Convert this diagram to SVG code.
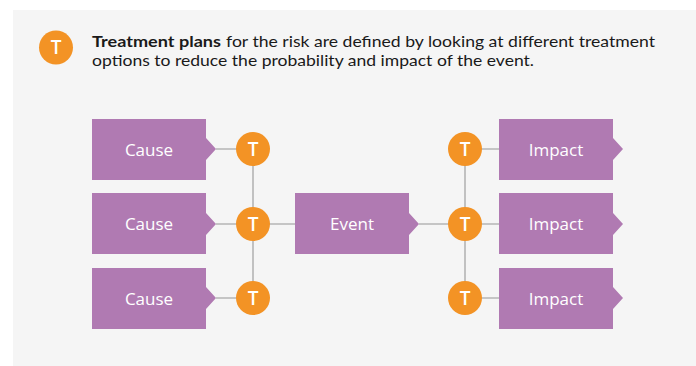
<svg xmlns="http://www.w3.org/2000/svg" width="696" height="366" viewBox="0 0 696 366">
<defs>
<style>
.box{fill:#b07ab2}
.t{fill:#f39325}
.tl{font-family:"Open Sans","Liberation Sans",sans-serif;font-size:19px;font-weight:600;fill:#ffffff;text-anchor:middle}
.lbl{font-family:"Open Sans","Liberation Sans",sans-serif;font-size:17px;fill:#ffffff;text-anchor:middle}
.hdr{font-family:Lato,"Liberation Sans",sans-serif;font-size:16px;fill:#1a1a1a}
.ln{stroke:#b4b4b4;stroke-width:1.6;fill:none}
</style>
</defs>
<rect x="0" y="0" width="696" height="366" fill="#ffffff"/>
<rect x="13" y="10" width="683" height="356" fill="#f5f5f5"/>
<g id="header">
<circle class="t" cx="56" cy="47.5" r="17"/>
<text class="tl" x="56" y="54">T</text>
<text class="hdr" x="92" y="47" font-weight="bold" textLength="129" lengthAdjust="spacingAndGlyphs">Treatment plans</text>
<text class="hdr" x="226" y="47" textLength="429" lengthAdjust="spacingAndGlyphs">for the risk are defined by looking at different treatment</text>
<text class="hdr" x="92" y="66" textLength="442" lengthAdjust="spacingAndGlyphs">options to reduce the probability and impact of the event.</text>
</g>
<g id="connectors">
<line class="ln" x1="216" y1="149" x2="253" y2="149"/>
<line class="ln" x1="216" y1="224" x2="295" y2="224"/>
<line class="ln" x1="216" y1="298" x2="253" y2="298"/>
<line class="ln" x1="253" y1="149" x2="253" y2="298"/>
<line class="ln" x1="419" y1="224" x2="499" y2="224"/>
<line class="ln" x1="465" y1="149" x2="499" y2="149"/>
<line class="ln" x1="465" y1="298" x2="499" y2="298"/>
<line class="ln" x1="465" y1="149" x2="465" y2="298"/>
</g>
<g id="cause1"><path class="box" d="M92 119H206V138L216 149L206 160V180H92Z"/><text class="lbl" x="149" y="156">Cause</text></g>
<g id="cause2"><path class="box" d="M92 193H206V213L216 224L206 235V254H92Z"/><text class="lbl" x="149" y="230">Cause</text></g>
<g id="cause3"><path class="box" d="M92 268H206V287L216 298L206 309V329H92Z"/><text class="lbl" x="149" y="305">Cause</text></g>
<g id="event"><path class="box" d="M295 193H409V213L419 224L409 235V254H295Z"/><text class="lbl" x="352" y="230">Event</text></g>
<g id="impact1"><path class="box" d="M499 119H613V138L623 149L613 160V180H499Z"/><text class="lbl" x="556" y="156">Impact</text></g>
<g id="impact2"><path class="box" d="M499 193H613V213L623 224L613 235V254H499Z"/><text class="lbl" x="556" y="230">Impact</text></g>
<g id="impact3"><path class="box" d="M499 268H613V287L623 298L613 309V329H499Z"/><text class="lbl" x="556" y="305">Impact</text></g>
<g id="t-left1"><circle class="t" cx="253" cy="149" r="17"/><text class="tl" x="253" y="155.5">T</text></g>
<g id="t-left2"><circle class="t" cx="253" cy="224" r="17"/><text class="tl" x="253" y="230.5">T</text></g>
<g id="t-left3"><circle class="t" cx="253" cy="298" r="17"/><text class="tl" x="253" y="304.5">T</text></g>
<g id="t-right1"><circle class="t" cx="465" cy="149" r="17"/><text class="tl" x="465" y="155.5">T</text></g>
<g id="t-right2"><circle class="t" cx="465" cy="224" r="17"/><text class="tl" x="465" y="230.5">T</text></g>
<g id="t-right3"><circle class="t" cx="465" cy="298" r="17"/><text class="tl" x="465" y="304.5">T</text></g>
</svg>
